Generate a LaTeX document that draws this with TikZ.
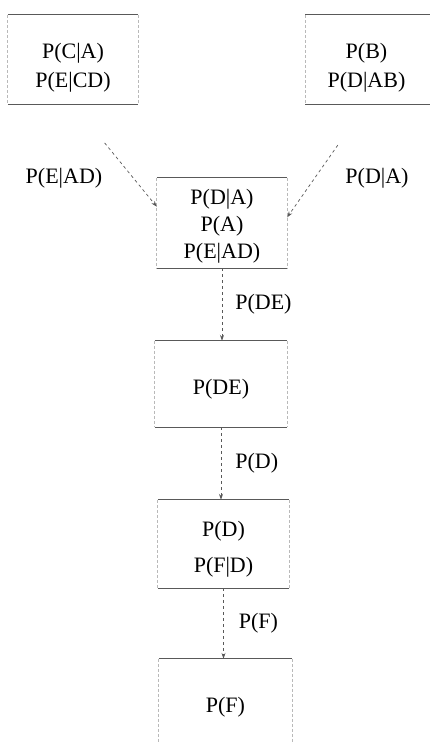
\documentclass[tikz,border=0pt]{standalone}
\usepackage{fontspec}
\setmainfont{Liberation Serif}
\usetikzlibrary{arrows.meta}

\tikzset{
  clique/.style={inner sep=0pt, align=center, font=\fontsize{22}{27}\selectfont},
  rim/.style={draw=gray!70!black, line width=1.2pt},
  side/.style={draw=gray!55, line width=0.8pt, densely dashed},
  msg/.style={draw=gray!70!black, line width=0.7pt, dashed, -{Stealth[length=6pt,width=4pt]}},
  msglabel/.style={font=\fontsize{22}{27}\selectfont, inner sep=0pt}
}

\begin{document}
\begin{tikzpicture}[x=1pt,y=-1pt]
  \useasboundingbox (0,0) rectangle (430,744);
  % cliques
  \node[clique, minimum width=130pt, minimum height=89pt] (ca) at (73,59.5)
    {\rule{0pt}{31pt}P(C|A)\\[2pt]P(E|CD)};
  \node[clique, minimum width=140pt, minimum height=89pt] (bd) at (375.5,59.5)
    {\rule{0pt}{31pt}P(B)\hspace*{18pt}\\[2pt]P(D|AB)\hspace*{18pt}};
  \node[clique, minimum width=130pt, minimum height=90pt] (mid) at (222,223)
    {\rule{0pt}{21pt}P(D|A)\\P(A)\\P(E|AD)};
  \node[clique, minimum width=132pt, minimum height=86pt] (de) at (221,384)
    {\rule{0pt}{25pt}P(DE)};
  \node[clique, minimum width=131pt, minimum height=88pt] (d) at (223.5,544)
    {\rule{0pt}{25pt}P(D)\\[9pt]P(F|D)};
  \node[clique, minimum width=133pt, minimum height=96pt] (f) at (225.5,707) {P(F)};
  \foreach \c in {ca,bd,mid,de,d,f}{
    \draw[rim] (\c.north west) -- (\c.north east);
    \draw[rim] (\c.south west) -- (\c.south east);
    \draw[side] (\c.north west) -- (\c.south west);
  }
  \foreach \c in {ca,mid,de,d,f}
    \draw[side] (\c.north east) -- (\c.south east);
  % messages
  \coordinate (bdout) at ([xshift=-9pt]bd.south);
  \node[msglabel] (lab1) at (64,178) {P(E|AD)};
  \node[msglabel] (lab2) at (377,178) {P(D|A)};
  \draw[msg, shorten <=50pt] (ca.south) -- (mid.166);
  \draw[msg, shorten <=50pt] (bdout) -- (mid.5);
  \draw[msg] (mid.south) -- (mid.south |- de.north)
    node[msglabel, midway, right=13pt] {P(DE)};
  \draw[msg] (de.south) -- (de.south |- d.north)
    node[msglabel, midway, right=14pt] {P(D)};
  \draw[msg] (d.south) -- (d.south |- f.north)
    node[msglabel, midway, right=15pt] {P(F)};
\end{tikzpicture}
\end{document}
